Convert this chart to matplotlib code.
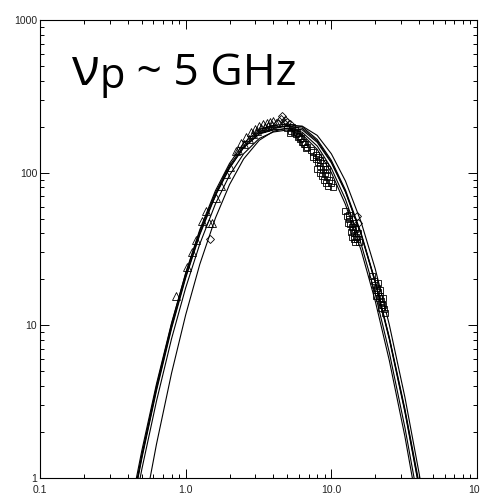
import matplotlib
matplotlib.use("Agg")
import matplotlib.pyplot as plt
from matplotlib.ticker import LogLocator, NullFormatter

# frequency grid (GHz) for the fitted spectra
freq = [0.42, 0.5, 0.63, 0.8, 1.0, 1.25, 1.6, 2.0, 2.5, 3.2, 4.0, 5.0,
        6.3, 8.0, 10.0, 12.5, 16.0, 20.0, 25.0, 32.0, 40.0, 44.0]

# fitted flux density spectra (sfu), one list per time
fit_1 = [0.57, 1.34, 3.72, 9.53, 20.4, 39.2, 70.6, 107, 146, 180, 194.5, 202,
         195.4, 161.4, 117.8, 75.2, 39.4, 19.05, 8.09, 2.70, 0.865, 0.515]
fit_2 = [0.60, 1.42, 3.98, 10.2, 22.0, 42.3, 76.1, 115, 156, 191, 204, 208,
         200, 165, 120.5, 77.0, 40.3, 19.5, 8.28, 2.76, 0.885, 0.526]
fit_3 = [0.48, 1.14, 3.18, 8.17, 17.6, 34.1, 62.4, 96.2, 133, 167.6, 184.6, 190.5,
         178, 142, 100.2, 61.9, 31.1, 14.5, 5.89, 1.87, 0.57, 0.33]
fit_4 = [0.195, 0.516, 1.66, 4.86, 11.7, 25.1, 50.4, 83.5, 123, 163, 186.6, 196,
         191, 158, 116, 74.8, 39.5, 19.4, 8.34, 2.83, 0.925, 0.555]
fit_5 = [0.653, 1.51, 4.12, 10.35, 21.8, 41.3, 73.7, 111, 150, 185, 199, 202,
         202, 175.5, 133, 88.2, 47.6, 23.5, 10.1, 3.38, 1.08, 0.64]
fit_6 = [0.585, 1.38, 3.83, 9.78, 20.9, 39.9, 71.6, 108, 146, 179, 190.5, 194.5,
         184, 149.5, 107, 66.9, 34.2, 16.1, 6.65, 2.14, 0.665, 0.39]
fits = [fit_1, fit_2, fit_3, fit_4, fit_5, fit_6]

# observed fluxes, low-frequency channels
tri_freq = [0.86, 1.02, 1.10, 1.18, 1.30, 1.38, 1.45, 1.52, 1.62, 1.75, 1.90, 2.0,
            2.2, 2.4, 2.6, 2.8, 3.0, 3.2, 3.4, 3.6, 3.8, 4.0,
            2.3, 2.5, 2.7, 2.9, 3.1, 3.3, 3.5, 3.7, 3.9, 4.2]
tri_flux = [15.5, 24, 30, 36, 48, 56, 47, 47, 68, 82, 98, 109,
            139, 156, 170, 184, 194, 202, 208, 213, 216, 218,
            140, 155, 167, 178, 188, 195, 200, 203, 205, 210]

# observed fluxes near the peak and at 15 GHz
dia_freq = [1.47, 4.3, 4.5, 4.6, 4.7, 4.8, 5.0, 5.2, 15.0, 15.3]
dia_flux = [37, 212, 225, 236, 210, 222, 215, 208, 52, 47]

# observed fluxes, high-frequency channels
sq_freq = [5.0, 5.2, 5.3, 5.4, 5.5, 5.6, 5.7, 5.8, 5.9, 6.0, 6.1, 6.2, 6.3, 6.4,
           6.5, 6.6, 6.7, 6.8,
           7.2, 7.5, 7.8, 8.1, 8.4, 8.7, 9.0, 9.3,
           7.5, 7.8, 8.1, 8.4, 8.7, 9.0, 9.3, 9.6, 9.9, 10.2,
           8.0, 8.3, 8.6, 8.9, 9.2, 9.5,
           12.5, 12.8, 13.0, 13.2, 13.3, 13.5, 13.7, 13.8, 13.9, 14.0, 14.1, 14.3,
           14.4, 14.6, 14.6, 14.7, 15.0, 15.2, 15.4,
           19.0, 19.5, 20.0, 20.2, 20.3, 20.5, 20.8, 21.0, 21.2, 21.5, 21.6, 21.8,
           22.0, 22.2, 22.5, 22.8, 23.0, 23.3]
sq_flux = [195, 181, 188, 198, 185, 190, 178, 182, 172, 175, 165, 168, 158, 160,
           155, 153, 145, 147,
           140, 136, 131, 126, 121, 116, 111, 106,
           126, 122, 117, 111, 105, 100, 95, 90, 86, 80,
           105, 100, 95, 90, 86, 82,
           56, 52, 47, 50, 53, 46, 41, 44, 38, 47, 42, 37,
           40, 43, 35, 38, 37, 40, 35,
           21, 19.5, 18.5, 17, 15.5, 17.5, 19, 16.5, 15, 15.5, 17, 13,
           14.5, 13.5, 13.5, 15, 12.8, 12]

x_ticks = [0.1, 1.0, 10.0, 100.0]
x_labels = ["0.1", "1.0", "10.0", "100"]
y_ticks = [1, 10, 100, 1000]
y_labels = ["1", "10", "100", "1000"]

fig = plt.figure(figsize=(4.81, 4.99), dpi=100)
ax = fig.add_axes([40 / 481, 21 / 499, 437 / 481, 458 / 499])
ax.set_xscale("log")
ax.set_yscale("log")
ax.set_xlim(0.1, 100)
ax.set_ylim(1, 1000)

for f in fits:
    ax.plot(freq, f, color="black", lw=0.8)

mk = dict(ls="none", mfc="none", mec="black", mew=0.6)
ax.plot(tri_freq, tri_flux, marker="^", ms=5.5, **mk)
ax.plot(dia_freq, dia_flux, marker="D", ms=4.0, **mk)
ax.plot(sq_freq, sq_flux, marker="s", ms=3.8, **mk)

ax.set_xticks(x_ticks)
ax.set_xticklabels(x_labels)
ax.set_yticks(y_ticks)
ax.set_yticklabels(y_labels)
for axis in (ax.xaxis, ax.yaxis):
    axis.set_minor_locator(LogLocator(base=10, subs=range(2, 10), numticks=20))
    axis.set_minor_formatter(NullFormatter())
ax.tick_params(which="both", direction="in", top=True, right=True,
               width=0.7, colors="black", labelcolor="#222222")
ax.tick_params(which="major", length=6.5, labelsize=7.5)
ax.tick_params(axis="x", which="major", pad=5)
ax.tick_params(axis="y", which="major", pad=2)
ax.tick_params(which="minor", length=3.2)
for lab in ax.get_xticklabels() + ax.get_yticklabels():
    lab.set_family("Liberation Sans")
for s in ax.spines.values():
    s.set_linewidth(0.8)

# label: nu_p ~ 5 GHz
fig.canvas.draw()
inv = ax.transAxes.inverted()
base_y = 0.858
t1 = ax.text(0.073, base_y, "ν", transform=ax.transAxes, family="Open Sans",
             size=37, va="baseline")
fig.canvas.draw()
x1 = inv.transform(t1.get_window_extent().get_points())[1, 0]
t2 = ax.text(x1, base_y - 3 / 458, "p", transform=ax.transAxes, family="Open Sans",
             size=30, va="baseline")
fig.canvas.draw()
x2 = inv.transform(t2.get_window_extent().get_points())[1, 0]
ax.text(x2, base_y, " ~ 5 GHz", transform=ax.transAxes, family="Open Sans",
        size=32, va="baseline")

fig.savefig("out.png", dpi=100)
